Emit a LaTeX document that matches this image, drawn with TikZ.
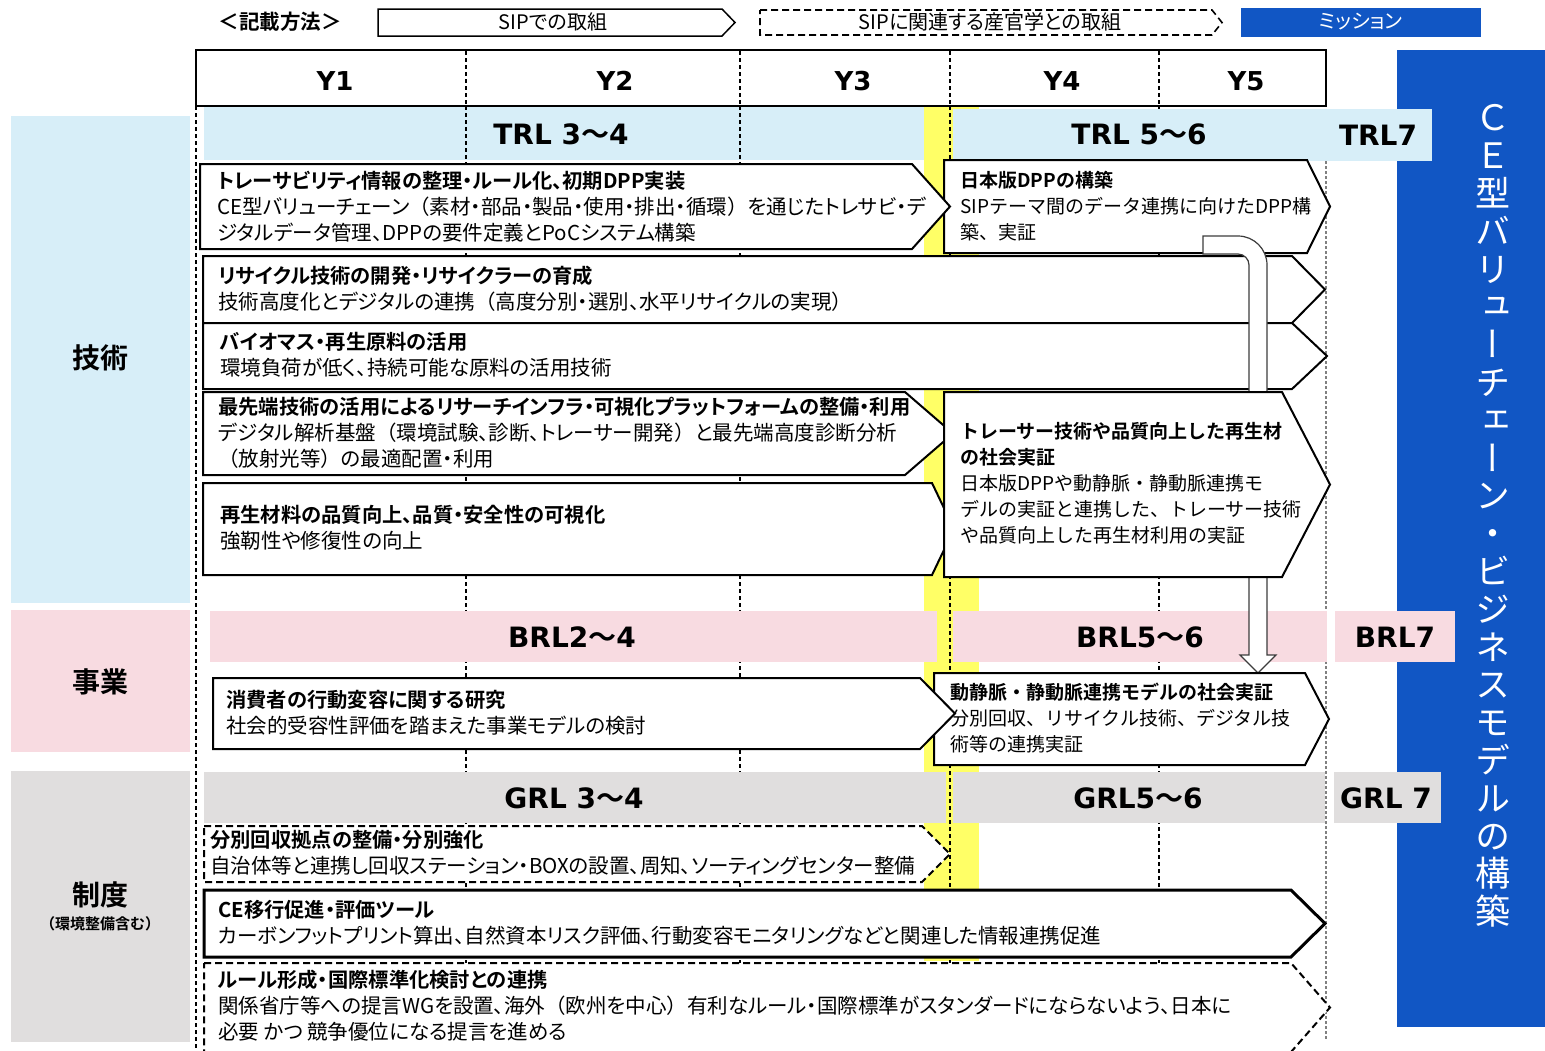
\documentclass[tikz,border=0pt]{standalone}
\usepackage{fontspec}
\setmainfont[BoldFont={Noto Sans CJK JP Bold}]{Noto Sans CJK JP}
\newfontfamily\jpui[BoldFont={Noto Sans CJK JP Bold},RawFeature=+palt]{Noto Sans CJK JP}
\newfontfamily\jp[BoldFont={Noto Sans CJK JP Bold}]{Noto Sans CJK JP}
\newfontfamily\jpv[RawFeature=+vert]{Noto Sans CJK JP}
\newfontfamily\jpb{Noto Sans CJK JP Bold}
\newfontfamily\latb{DejaVu Sans Bold}
\definecolor{lblue}{RGB}{215,238,248}
\definecolor{lpink}{RGB}{248,219,225}
\definecolor{lgray}{RGB}{224,222,222}
\definecolor{yel}{RGB}{255,255,102}
\definecolor{mblue}{RGB}{17,86,196}
\definecolor{arrgray}{RGB}{60,60,60}
\newcommand{\pent}[6][]{\draw[#1] (#2,#3) -- (#4,#3) -- (#5,{(#3+#6)/2}) -- (#4,#6) -- (#2,#6) -- cycle;}
\newcommand{\wv}{{\jpb ～}}
\newcommand{\lp}{{\jp （}}
\newcommand{\rp}{{\jp ）}}
\newcommand{\bt}[1]{{\bfseries\fontsize{20.3}{26}\selectfont #1}}
\begin{document}
\begin{tikzpicture}[x=1pt,y=-1pt,
  box/.style={draw=black,line width=2pt,fill=white,line join=miter},
  thickbox/.style={draw=black,line width=3pt,fill=white,line join=miter},
  dbox/.style={draw=black,line width=2pt,fill=white,dash pattern=on 7pt off 4pt},
  vdash/.style={draw=black,line width=1.1pt,dash pattern=on 4pt off 3pt},
  gdash/.style={draw=gray,line width=2pt,dash pattern=on 3pt off 2pt},
  txt/.style={anchor=north west,inner sep=0,align=left,font=\jpui\fontsize{20.5}{26}\selectfont},
  txtm/.style={anchor=north west,inner sep=0,align=left,font=\jp\fontsize{19}{26}\selectfont},
  ylab/.style={inner sep=0,font=\latb\fontsize{26}{30}\selectfont},
  blab/.style={inner sep=0,font=\latb\fontsize{28}{32}\selectfont},
  side/.style={inner sep=0,font=\jp\bfseries\fontsize{28}{32}\selectfont},
  legt/.style={inner sep=0,font=\jpui\fontsize{20}{24}\selectfont}]
\useasboundingbox (0,0) rectangle (1545,1050);
\fill[white] (0,0) rectangle (1545,1050);

% legend
\node[inner sep=0,font=\jp\bfseries\fontsize{20.5}{24}\selectfont] (leg) at (280,22) {＜記載方法＞};
\draw[line width=1.5pt,fill=white] (378,9) -- (722,9) -- (735,22.5) -- (722,36) -- (378,36) -- cycle;
\node[legt] (legsip) at (553,22) {SIPでの取組};
\draw[line width=1.6pt,dash pattern=on 7pt off 4pt] (760,10) -- (1212,10) -- (1222,22.5) -- (1212,35) -- (760,35) -- cycle;
\node[legt] (legrel) at (990,22) {SIPに関連する産官学との取組};
\fill[mblue] (1241,8) rectangle (1481,37);
\node[legt,text=white] (legmis) at (1361,22) {ミッション};

% side labels and bands
\fill[lblue] (11,116) rectangle (190,603);
\fill[lpink] (11,610) rectangle (190,752);
\fill[lgray] (11,771) rectangle (190,1042);
\node[side] (sgijutsu) at (100,358) {技術};
\node[side] (sjigyo) at (100,682) {事業};
\node[side] (sseido) at (100,895) {制度};
\node[inner sep=0,font=\jp\bfseries\fontsize{15}{16}\selectfont] (sseidosub) at (100,924) {（環境整備含む）};

\fill[lblue] (204,107) rectangle (924,160);
\fill[yel] (924,106) rectangle (979,961);

% vertical year lines
\foreach \xx in {196,466,740,950,1159} \draw[vdash] (\xx,106) -- (\xx,1050);
\draw[gdash] (1326,161) -- (1326,1040);

% mission column
\fill[mblue] (1397,50) rectangle (1545,1027);
\node[inner sep=0,align=center,text=white,font=\jpv\fontsize{35}{37.8}\selectfont] (mission) at (1493,516)
 {Ｃ\\Ｅ\\型\\バ\\リ\\ュ\\ー\\チ\\ェ\\ー\\ン\\・\\ビ\\ジ\\ネ\\ス\\モ\\デ\\ル\\の\\構\\築};

\fill[lblue] (953,109) rectangle (1432,161);
\fill[lpink] (210,611) rectangle (937,662);
\fill[lpink] (953,611) rectangle (1327,662);
\fill[lpink] (1335,611) rectangle (1455,662);
\fill[lgray] (204,772) rectangle (946,823);
\fill[lgray] (953,772) rectangle (1325,823);
\fill[lgray] (1334,772) rectangle (1441,823);

\node[blab] (trl34) at (561,134) {TRL 3\wv4};
\node[blab] (trl56) at (1139,134) {TRL 5\wv6};
\node[blab] (trl7) at (1378,135) {TRL7};
\node[blab] (brl24) at (572,637) {BRL2\wv4};
\node[blab] (brl56) at (1140,637) {BRL5\wv6};
\node[blab] (brl7) at (1395,637) {BRL7};
\node[blab] (grl34) at (574,798) {GRL 3\wv4};
\node[blab] (grl56) at (1138,798) {GRL5\wv6};
\node[blab] (grl7) at (1386,798) {GRL 7};

% header
\draw[line width=2.5pt,fill=white] (196,50) rectangle (1326,106);
\foreach \xx in {466,740,950,1159} \draw[vdash] (\xx,51) -- (\xx,105);
\node[ylab] (y1) at (335,81) {Y1};
\node[ylab] (y2) at (615,81) {Y2};
\node[ylab] (y3) at (853,81) {Y3};
\node[ylab] (y4) at (1062,81) {Y4};
\node[ylab] (y5) at (1246,81) {Y5};

% technology boxes
\pent[box]{944}{160}{1307}{1330}{253}
\node[txtm] (tdpp) at (960,171) {{\bfseries 日本版DPPの構築}\\SIPテーマ間のデータ連携に向けたDPP構\\築、実証};
\pent[box]{200}{164}{912}{950}{249}
\node[txt] (ttrace) at (217,171) {\bt{トレーサビリティ情報の整理・ルール化、初期DPP実装}\\CE型バリューチェーン\lp 素材・部品・製品・使用・排出・循環\rp を通じたトレサビ・デ\\ジタルデータ管理、DPPの要件定義とPoCシステム構築};
\pent[box]{203}{256}{1292}{1325}{323}
\node[txt] (trecy) at (218,266) {\bt{リサイクル技術の開発・リサイクラーの育成}\\技術高度化とデジタルの連携\lp 高度分別・選別、水平リサイクルの実現\rp};
\pent[box]{203}{323}{1292}{1327}{389}
\node[txt] (tbio) at (220,332) {\bt{バイオマス・再生原料の活用}\\環境負荷が低く、持続可能な原料の活用技術};
\pent[box]{203}{392}{905}{953}{475}
\node[txt] (tinfra) at (218,397) {\bt{最先端技術の活用によるリサーチインフラ・可視化プラットフォームの整備・利用}\\デジタル解析基盤\lp 環境試験、診断、トレーサー開発\rp と最先端高度診断分析\\\lp 放射光等\rp の最適配置・利用};
\pent[box]{203}{483}{932}{954}{575}
\node[txt] (tmat) at (220,505) {\bt{再生材料の品質向上、品質・安全性の可視化}\\強靭性や修復性の向上};

% block arrow from DPP to social demonstration
\draw[draw=arrgray,line width=1.2pt,fill=white,line join=miter]
  (1203,236) -- (1238,236) .. controls (1254,236) and (1267,249) .. (1267,265)
  -- (1267,655) -- (1276,655) -- (1258,673) -- (1240,655) -- (1249,655)
  -- (1249,265) .. controls (1249,259) and (1244,254) .. (1238,254) -- (1203,254) -- cycle;

\pent[box]{944}{392}{1282}{1330}{577}
\node[txtm] (ttracer) at (960,422) {{\bfseries トレーサー技術や品質向上した再生材}\\{\bfseries の社会実証}\\日本版DPPや動静脈・静動脈連携モ\\デルの実証と連携した、トレーサー技術\\や品質向上した再生材利用の実証};

% business
\pent[box]{934}{673}{1305}{1329}{765}
\node[txtm] (tsoc) at (950,683) {{\bfseries 動静脈・静動脈連携モデルの社会実証}\\分別回収、リサイクル技術、デジタル技\\術等の連携実証};
\pent[box]{213}{678}{920}{955}{749}
\node[txt] (tcons) at (226,690) {\bt{消費者の行動変容に関する研究}\\社会的受容性評価を踏まえた事業モデルの検討};

% institutions
\pent[dbox]{204}{826}{922}{950}{882}
\node[txt] (tsort) at (210,830) {\bt{分別回収拠点の整備・分別強化}\\自治体等と連携し回収ステーション・BOXの設置、周知、ソーティングセンター整備};
\pent[thickbox]{204}{890}{1291}{1325}{957}
\node[txt] (tce) at (218,900) {\bt{CE移行促進・評価ツール}\\カーボンフットプリント算出、自然資本リスク評価、行動変容モニタリングなどと関連した情報連携促進};
\pent[dbox]{204}{963}{1291}{1330}{1052}
\node[txt] (trule) at (218,970) {\bt{ルール形成・国際標準化検討との連携}\\関係省庁等への提言WGを設置、海外\lp 欧州を中心\rp 有利なルール・国際標準がスタンダードにならないよう、日本に\\必要 かつ 競争優位になる提言を進める};
\end{tikzpicture}
\end{document}
